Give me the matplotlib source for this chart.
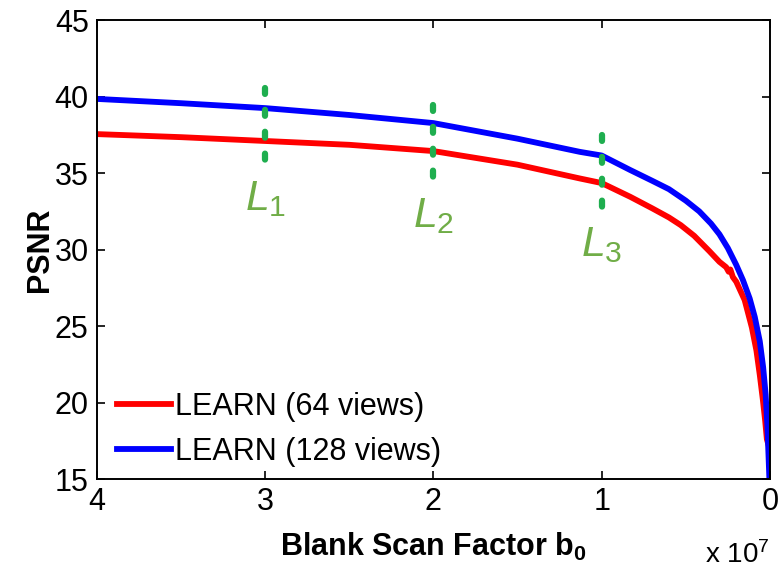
import matplotlib
matplotlib.use('Agg')
import matplotlib.pyplot as plt

plt.rcParams['font.family'] = ['Liberation Sans', 'DejaVu Sans']
plt.rcParams['mathtext.fontset'] = 'custom'
plt.rcParams['mathtext.rm'] = 'Liberation Sans'
plt.rcParams['mathtext.it'] = 'Liberation Sans:italic'
plt.rcParams['mathtext.bf'] = 'Liberation Sans:bold'

# blank scan factor in units of 1e7
x_128 = [4.0, 3.5, 3.0, 2.5, 2.0, 1.5, 1.13, 1.0, 0.83, 0.7, 0.6, 0.5, 0.42, 0.35, 0.3,
         0.25, 0.2, 0.16, 0.12, 0.09, 0.06, 0.04, 0.025, 0.015, 0.008, 0.003]
psnr_128 = [39.85, 39.57, 39.25, 38.8, 38.27, 37.25, 36.39, 36.15, 35.2, 34.5, 33.95, 33.2, 32.5, 31.7, 31.0,
            30.1, 29.0, 28.0, 26.8, 25.6, 24.0, 22.3, 20.5, 18.5, 16.5, 15.0]

x_64 = [4.0, 3.5, 3.0, 2.5, 2.0, 1.5, 1.13, 1.0, 0.83, 0.7, 0.6, 0.53, 0.45, 0.36, 0.3,
        0.26, 0.245, 0.235, 0.22, 0.2, 0.15, 0.107, 0.08, 0.06, 0.042, 0.028, 0.018, 0.01]
psnr_64 = [37.55, 37.35, 37.1, 36.85, 36.44, 35.55, 34.65, 34.35, 33.45, 32.7, 32.1, 31.6, 30.9, 29.9, 29.2,
           28.85, 28.55, 28.7, 28.2, 27.9, 26.7, 24.9, 23.4, 21.8, 20.2, 18.8, 17.6, 17.3]

marker_x = [3, 2, 1]
marker_lo = [35.825, 34.725, 32.725]
marker_hi = [40.575, 39.475, 37.475]
marker_labels = [r'$\mathit{L_1}$', r'$\mathit{L_2}$', r'$\mathit{L_3}$']
label_y = [33.3, 32.2, 30.3]

fig = plt.figure(figsize=(7.84, 5.76), dpi=100)
ax = fig.add_axes([0.1237, 0.1684, 0.8583, 0.7966])

ax.plot(x_64, psnr_64, color='#ff0000', lw=4.2, label='LEARN (64 views)')
ax.plot(x_128, psnr_128, color='#0000ff', lw=4.2, label='LEARN (128 views)')

for xm, lo, hi, lab, ly in zip(marker_x, marker_lo, marker_hi, marker_labels, label_y):
    ax.plot([xm, xm], [hi, lo], color='#1fae4f', lw=4.5, linestyle=(0, (0.95, 2.55)),
            dash_capstyle='round')
    ax.text(xm, ly, lab, color='#70ad47', fontsize=31, ha='center', va='center')

ax.set_xlim(4, 0)
ax.set_ylim(15, 45)
ax.set_xticks([4, 3, 2, 1, 0])
ax.set_yticks([15, 20, 25, 30, 35, 40, 45])
ax.tick_params(direction='in', length=6, width=1.2, labelsize=22, top=True, right=True, pad=6)
for s in ax.spines.values():
    s.set_linewidth(1.4)

ax.set_ylabel('PSNR', fontsize=22, fontweight='bold', labelpad=0)
ax.set_xlabel(r'Blank Scan Factor b$_\mathbf{0}$', fontsize=22, fontweight='bold', labelpad=10)
ax.text(1.0, -0.165, r'x 10$^7$', transform=ax.transAxes, fontsize=20, ha='right', va='center')

ax.legend(loc='lower left', bbox_to_anchor=(0.012, 0.0), frameon=False, fontsize=22,
          handlelength=1.75, handletextpad=0.15, labelspacing=0.5, borderaxespad=0.1,
          borderpad=0.3)

fig.savefig('out.png', dpi=100)
